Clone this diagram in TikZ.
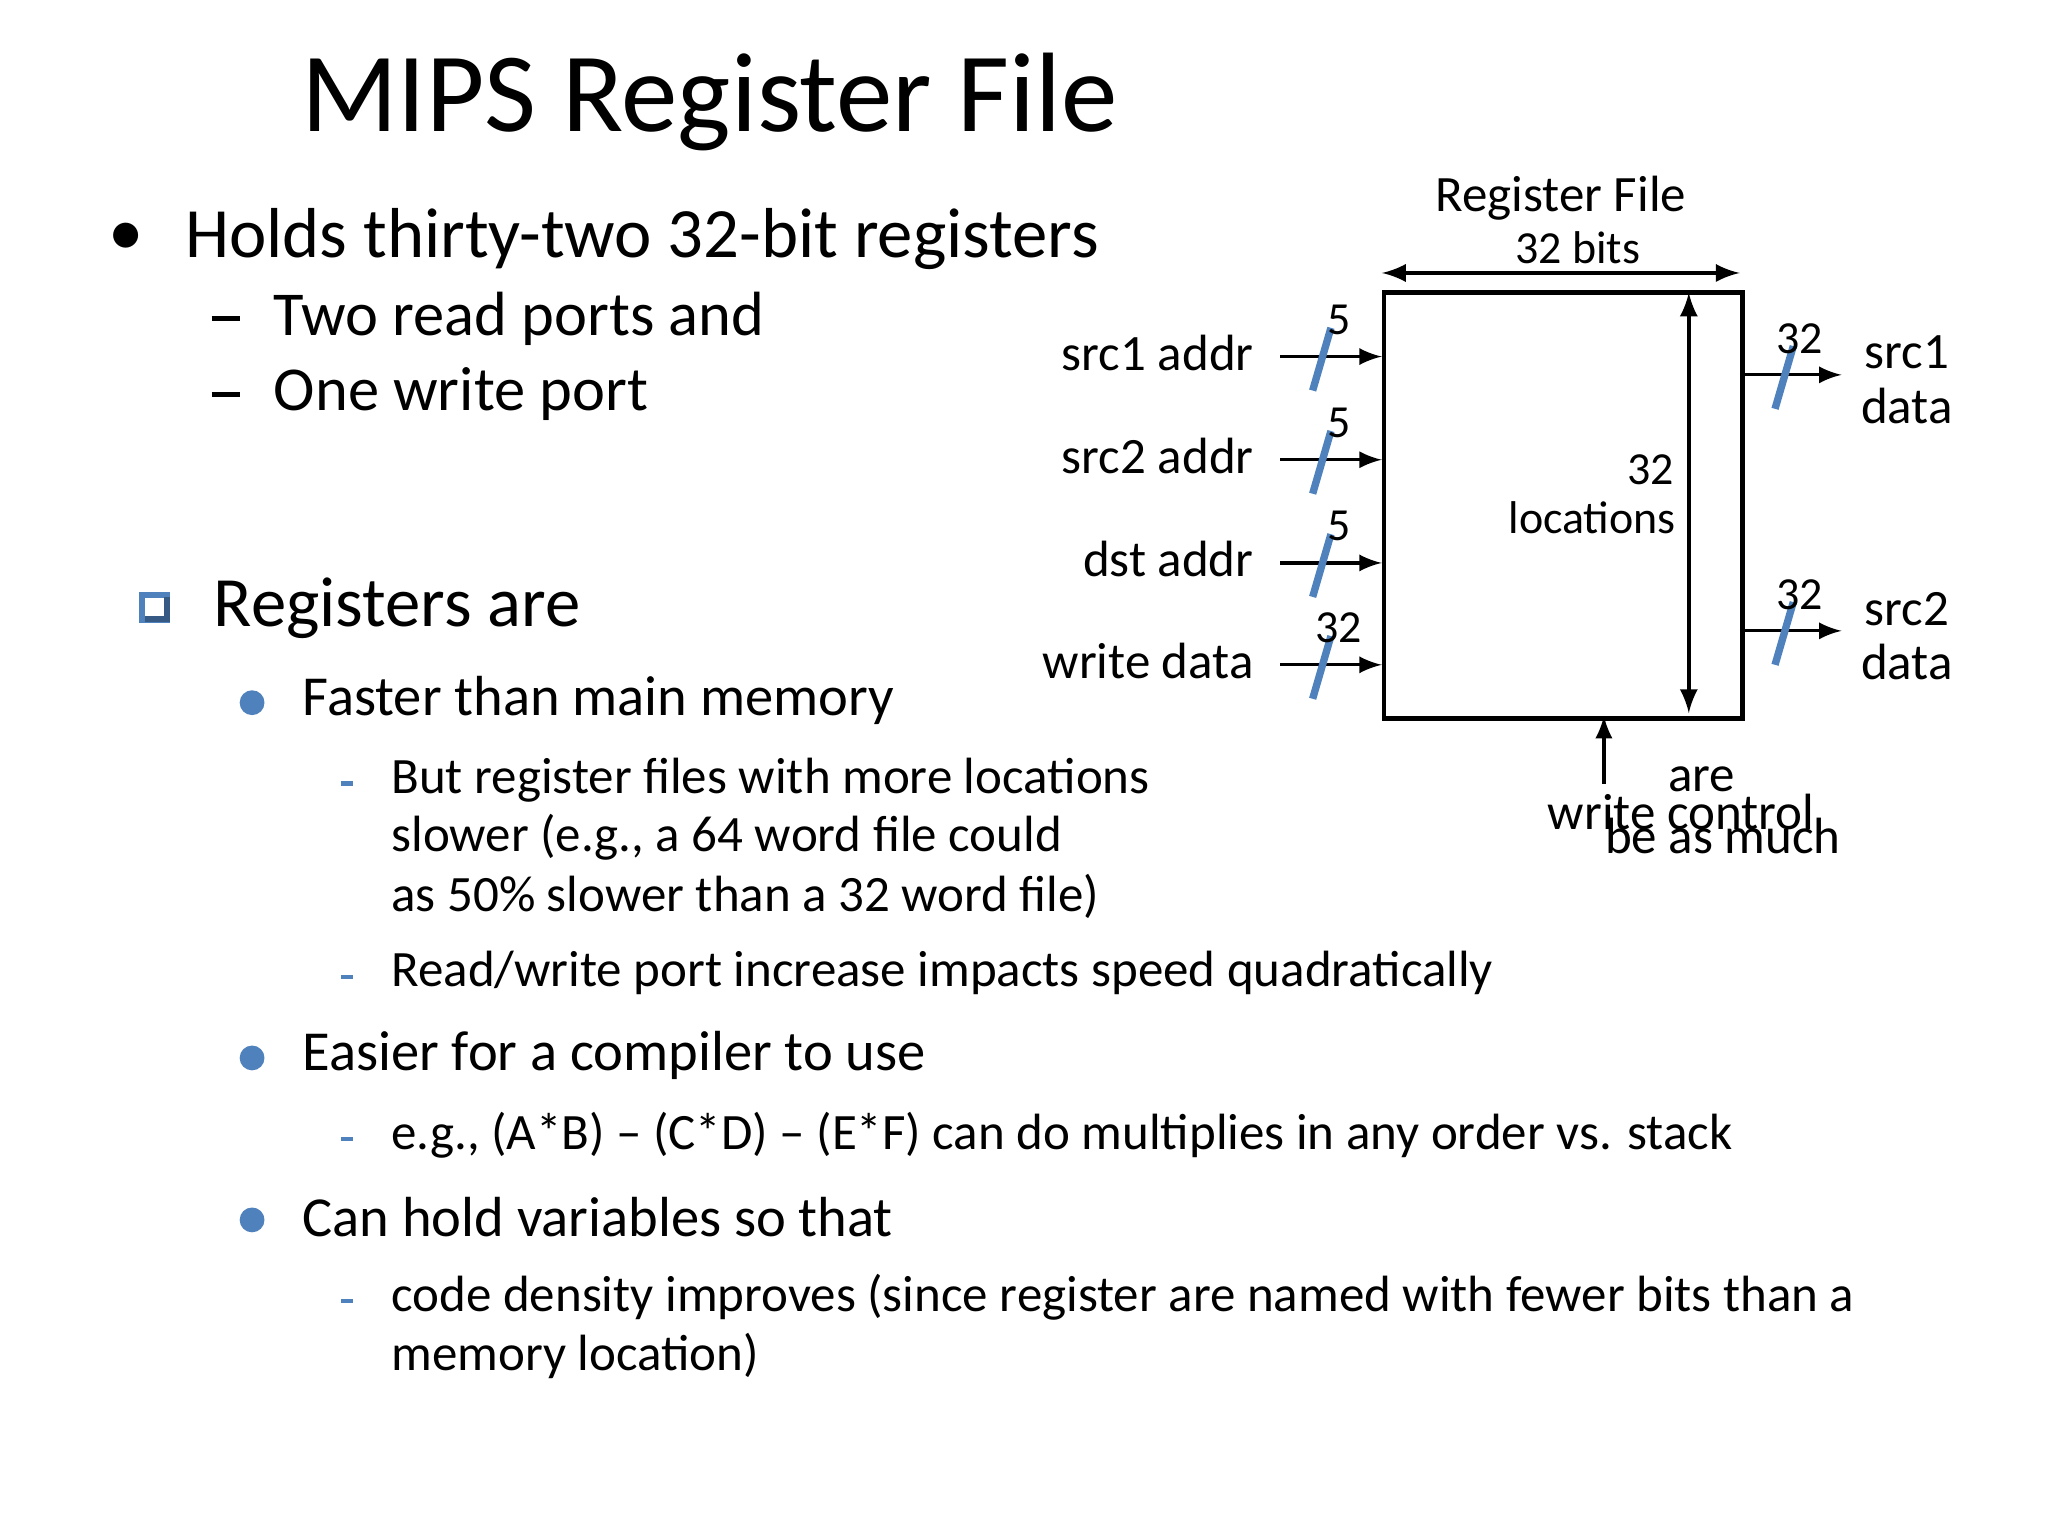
\documentclass[tikz,border=0pt]{standalone}
\usepackage{fontspec}
\setmainfont{Carlito}
\begin{document}
\begin{tikzpicture}[x=0.01cm,y=-0.01cm,
  lbl/.style={font=\fontsize{11.1}{13}\selectfont,inner sep=1pt},
  num/.style={font=\fontsize{10}{12}\selectfont,inner sep=1pt},
  sl/.style={draw=bb,line width=1.6pt},
  ar/.style={-latex,line width=0.7pt},
  b1/.style={anchor=west,font=\fontsize{15.4}{18}\selectfont,inner sep=0},
  b2/.style={anchor=west,font=\fontsize{13.6}{16}\selectfont,inner sep=0},
  b3/.style={anchor=west,font=\fontsize{12.3}{15}\selectfont,inner sep=0},
  b4/.style={anchor=west,font=\fontsize{11.1}{13}\selectfont,inner sep=0}]
\useasboundingbox (0,0) rectangle (1568,1176);
\definecolor{bb}{RGB}{79,129,189}
% title
\node[anchor=west,font=\fontsize{24.6}{28}\selectfont,inner sep=0] (title) at (230,78) {MIPS Register File};
% bullets
\node[b1] (d1) at (82,183) {•};
\node[b1] (t1) at (141,183) {Holds thirty-two 32-bit registers};
\draw[line width=1.2pt] (162,244) -- (184,244);
\node[b2] (t2) at (209,244) {Two read ports and};
\draw[line width=1.2pt] (162,302) -- (184,302);
\node[b2] (t3) at (209,302) {One write port};
\node[draw=bb,line width=1.3pt,minimum size=0.19cm,inner sep=0] (q) at (118,465) {};
\draw[bb!70!black,line width=1.3pt] (111,474) -- (128,474) -- (128,457);
\node[b1] (t4) at (163,466) {Registers are};
\foreach \y/\t in {536/Faster than main memory,808/Easier for a compiler to use,932/Can hold variables so that}{
  \node[circle,fill=bb,inner sep=0,minimum size=0.19cm] at (193,\y+2) {};
  \node[b3] at (231,\y) {\t};}
\foreach \y in {597,745,869,993}{\draw[bb,line width=1pt] (261,\y+3) -- (270,\y+3);}
\node[b4] (s1) at (299,597) {But register files with more locations};
\node[b4] (s2) at (299,641) {slower (e.g., a 64 word file could};
\node[b4] (s3) at (299,686) {as 50\% slower than a 32 word file)};
\node[b4] (s4) at (299,745) {Read/write port increase impacts speed quadratically};
\node[b4] (s5) at (299,869) {e.g., (A*B) – (C*D) – (E*F) can do multiplies in any order vs. stack};
\node[b4] (s6) at (299,993) {code density improves (since register are named with fewer bits than a};
\node[b4] (s7) at (299,1038) {memory location)};
% register file
\node[draw,line width=1pt,minimum width=2.74cm,minimum height=3.26cm,anchor=north west,inner sep=0] (rf) at (1058,222) {};
\node[lbl] (rft) at (1195,152) {Register File};
\node[num] (rfb) at (1208,190) {32 bits};
\coordinate (tl) at (1058,209); \coordinate (tr) at (1332,209);
\draw[latex-latex,line width=0.8pt] (tl) -- (tr);
\coordinate (vt) at (1293,224); \coordinate (vb) at (1293,546);
\draw[latex-latex,line width=0.8pt] (vt) -- (vb);
\node[num] (n32) at (1264,360) {32};
\node[num] (loc) at (1219,396) {locations};
\foreach \y/\t/\n [count=\i] in {273/src1 addr/5,352/src2 addr/5,431/dst addr/5,509/write data/32}{
  \node[lbl,anchor=east] (in\i) at (964,\y-3) {\t};
  \coordinate (s\i) at (980,\y);
  \coordinate (e\i) at (1058,\y);
  \draw[ar] (s\i) -- (e\i);
  \draw[sl] (1005,\y+26) -- (1019,\y-22);
  \node[num] at (1025,\y-28) {\n};}
\foreach \y/\t [count=\i] in {287/src1,483/src2}{
  \coordinate (os\i) at (1332,\y);
  \coordinate (oe\i) at (1410,\y);
  \draw[ar] (os\i) -- (oe\i);
  \draw[sl] (1359,\y+26) -- (1373,\y-22);
  \node[num] at (1378,\y-28) {32};
  \node[lbl] at (1460,\y-17) {\t};
  \node[lbl] at (1460,\y+24) {data};}
\coordinate (wc) at (1228,600);
\draw[ar] (wc) -- (1228,548);
\node[lbl] (wct) at (1287,622) {write control};
\node[lbl] (are) at (1303,597) {are};
\node[lbl] (bam) at (1319,640) {be as much};
\end{tikzpicture}
\end{document}
